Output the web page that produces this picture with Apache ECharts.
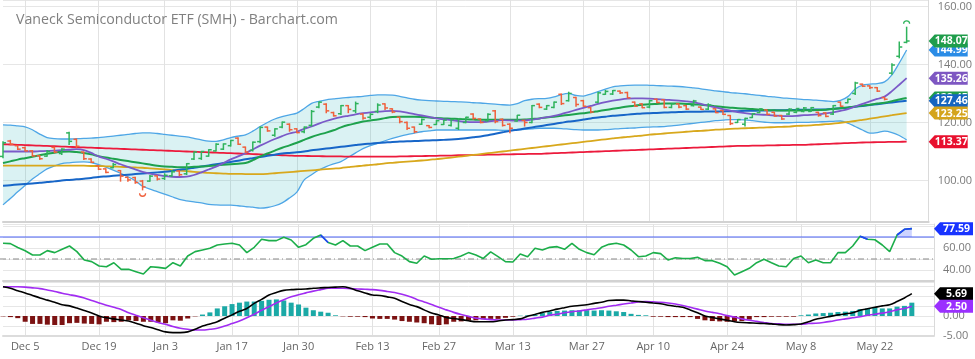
<!DOCTYPE html>
<html><head><meta charset="utf-8">
<script src="https://cdn.jsdelivr.net/npm/echarts@6/dist/echarts.min.js"></script>
<style>html,body{margin:0;padding:0;background:#fff}#c{width:975px;height:359px}</style>
</head><body><div id="c"></div>
<script>
const dates = ['Nov 30','Dec 1','Dec 2','Dec 5','Dec 6','Dec 7','Dec 8','Dec 9','Dec 12','Dec 13','Dec 14','Dec 15','Dec 16','Dec 19','Dec 20','Dec 21','Dec 22','Dec 23','Dec 27','Dec 28','Dec 29','Dec 30','Jan 3','Jan 4','Jan 5','Jan 6','Jan 9','Jan 10','Jan 11','Jan 12','Jan 13','Jan 17','Jan 18','Jan 19','Jan 20','Jan 23','Jan 24','Jan 25','Jan 26','Jan 27','Jan 30','Jan 31','Feb 1','Feb 2','Feb 3','Feb 6','Feb 7','Feb 8','Feb 9','Feb 10','Feb 13','Feb 14','Feb 15','Feb 16','Feb 17','Feb 21','Feb 22','Feb 23','Feb 24','Feb 27','Feb 28','Mar 1','Mar 2','Mar 3','Mar 6','Mar 7','Mar 8','Mar 9','Mar 10','Mar 13','Mar 14','Mar 15','Mar 16','Mar 17','Mar 20','Mar 21','Mar 22','Mar 23','Mar 24','Mar 27','Mar 28','Mar 29','Mar 30','Mar 31','Apr 3','Apr 4','Apr 5','Apr 6','Apr 10','Apr 11','Apr 12','Apr 13','Apr 14','Apr 17','Apr 18','Apr 19','Apr 20','Apr 21','Apr 24','Apr 25','Apr 26','Apr 27','Apr 28','May 1','May 2','May 3','May 4','May 5','May 8','May 9','May 10','May 11','May 12','May 15','May 16','May 17','May 18','May 19','May 22','May 23','May 24','May 25','May 26','May 30'];
const padCategories = [' ', '  ', '   '];
const tickLabels = ['Dec 5','Dec 19','Jan 3','Jan 17','Jan 30','Feb 13','Feb 27','Mar 13','Mar 27','Apr 10','Apr 24','May 8','May 22'];

const open = [108.3,113.6,112.0,111.3,110.2,108.5,108.4,111.4,109.3,116.4,114.2,109.8,107.4,105.1,104.0,104.4,103.4,101.1,101.0,99.8,99.8,101.6,100.7,101.6,103.3,102.3,107.4,107.6,108.4,110.2,110.8,112.0,114.6,111.5,110.4,113.4,118.4,115.6,118.4,119.4,117.8,116.8,119.0,125.3,126.3,123.4,123.0,125.8,124.0,122.9,121.8,123.8,126.4,124.7,121.8,120.0,118.4,119.4,118.9,119.3,119.3,119.0,118.0,120.0,122.9,121.2,120.6,124.0,121.1,119.4,120.5,120.7,120.0,126.3,124.6,125.2,129.7,127.5,128.6,127.5,125.1,127.0,129.7,129.8,130.8,130.3,127.0,126.4,125.3,128.0,127.8,125.2,126.4,125.8,125.8,125.3,124.6,124.7,124.1,122.4,120.0,119.4,121.7,123.4,124.3,123.5,122.4,122.9,123.5,123.8,123.8,123.5,123.3,122.9,127.0,126.8,130.0,133.2,132.6,132.0,128.6,137.0,142.8,147.6];
const high = [113.5,114.0,112.2,111.7,110.5,108.8,110.5,111.7,111.1,116.8,114.5,110.0,107.7,105.3,104.2,106.0,103.6,101.3,101.3,100.2,101.9,101.8,102.5,103.6,103.6,106.0,110.0,110.2,110.8,112.8,112.8,114.0,114.9,111.7,113.4,118.6,118.6,118.0,120.3,119.7,118.0,118.6,124.3,127.2,126.6,123.7,126.0,126.0,127.2,123.2,123.2,126.6,126.6,124.9,122.0,120.3,118.6,121.4,119.1,120.9,120.9,121.2,121.5,122.0,123.2,121.4,123.2,124.3,121.4,119.7,122.6,120.9,126.0,126.6,126.0,127.2,130.0,130.6,128.9,127.8,125.4,130.6,131.2,131.2,131.0,130.6,127.2,126.6,127.8,128.3,128.0,126.6,126.6,126.0,127.8,125.5,126.6,124.9,124.3,122.6,121.2,121.6,123.2,124.9,124.5,123.7,122.6,124.9,124.9,125.3,125.3,123.7,123.5,126.0,127.2,128.3,134.0,133.4,132.8,132.2,128.8,140.4,147.9,153.0];
const low = [107.7,112.2,110.5,110.0,108.2,107.1,108.2,109.4,108.8,112.2,111.1,107.1,106.0,103.6,102.5,104.2,99.6,99.6,98.9,96.6,99.6,100.0,100.2,101.3,101.5,101.9,107.1,107.1,108.2,110.0,110.5,111.7,112.2,109.4,110.0,112.8,116.8,115.1,118.0,116.8,116.3,116.3,118.6,124.9,123.2,122.0,122.6,123.2,123.2,120.9,121.2,123.2,124.3,123.2,119.7,117.4,116.3,119.1,118.0,119.1,119.1,118.6,117.4,119.7,120.9,119.7,120.3,119.7,118.6,116.3,120.3,118.6,119.7,124.9,124.3,124.9,126.0,127.2,125.4,125.4,123.2,126.6,129.5,129.5,129.8,128.3,125.4,124.9,124.9,126.6,124.9,124.9,124.9,124.3,125.5,124.3,124.3,123.2,122.6,119.1,119.8,118.6,121.5,123.2,122.5,122.0,120.9,122.6,123.2,123.5,123.6,122.0,121.8,122.6,125.4,126.6,129.5,132.2,131.5,130.5,127.6,136.4,142.1,147.3];
const close = [113.0,112.5,110.8,110.2,108.5,107.5,110.0,109.8,110.8,113.5,111.8,107.5,106.3,103.9,102.8,105.5,101.5,100.2,99.3,97.8,101.5,100.5,101.8,103.0,102.0,105.8,109.8,110.0,110.6,112.5,112.6,113.8,112.5,109.8,113.2,118.3,117.1,117.8,120.1,117.5,116.5,118.4,123.8,127.0,124.0,122.3,125.8,124.5,126.5,121.5,122.8,126.0,125.0,123.6,120.3,118.0,116.8,121.0,118.3,120.6,120.8,121.0,121.3,121.8,121.4,120.0,122.8,120.3,119.0,118.0,122.5,120.0,125.8,125.2,125.8,127.0,126.5,130.0,126.2,125.6,123.6,130.2,130.7,131.0,130.2,128.5,125.6,125.1,127.5,126.9,125.2,126.4,125.3,124.6,127.4,124.5,126.0,123.4,122.8,119.6,121.0,121.4,123.0,124.7,122.8,122.2,121.2,124.6,124.8,125.0,125.1,122.4,122.1,125.8,125.6,128.0,133.6,132.5,132.0,130.8,128.0,139.8,146.0,148.07];
// period high / low markers: [bar index, price level]
const extremeMarks = [[19, 95.6], [123, 154.0]];

const maPurple = [110,110,110,110,110,110.1,110.2,110.3,110.5,110.6,110.8,110.5,109.5,108.3,107.5,106.6,105.6,104.7,103.8,103,102.4,101.9,101.5,101.3,101.2,101.3,101.9,102.8,103.8,104.8,106,107.3,108.3,109.4,110.7,112,113.2,114.3,115.3,116.2,116.8,117.8,118.6,119.6,120.5,121.2,121.8,122.3,122.8,123.2,123.5,123.7,123.9,124,123.8,123.4,122.9,122.4,121.9,121.4,121.1,120.8,120.5,120.2,120.1,120.1,120.3,120.6,120.8,120.7,120.6,120.7,121,121.3,121.8,122.3,122.9,123.6,124.3,125,125.7,126.4,127,127.5,127.9,128.2,128.3,128.3,128.2,128,127.9,127.7,127.5,127.3,127,126.4,125.8,125.2,124.6,124.1,123.6,123.2,122.9,122.7,122.6,122.4,122.2,122.2,122.3,122.5,122.6,122.8,123.1,123.5,124,124.6,125.5,126.4,127.3,128.1,128.9,130.8,133,135.26];
const maGreen = [106,106.6,107.2,107.7,108.2,108.7,109.2,109.6,109.9,110,109.8,109.5,109,108.4,107.9,107.5,107.1,106.7,106.3,105.9,105.5,105.1,104.8,104.7,104.6,104.6,104.7,104.8,105,105.2,105.4,105.6,105.8,106,107,108.3,109.3,110.3,111.3,112.1,113,114,115,115.8,116.5,117.3,118.3,119.1,119.7,120.3,120.7,121,121.5,121.9,122,122,122,121.9,121.7,121.5,121.4,121.3,121.2,121.1,121,120.9,120.9,120.9,120.9,120.9,120.9,121,121.2,121.4,121.7,122,122.3,122.6,122.9,123.2,123.5,123.9,124.3,124.7,125.1,125.5,125.8,126.1,126.3,126.4,126.5,126.5,126.5,126.4,126.3,126.1,125.9,125.6,125.3,125.1,124.9,124.8,124.6,124.4,124.3,124.2,124.1,124.1,124.1,124.2,124.2,124.3,124.4,124.6,124.9,125.2,125.5,125.8,126.1,126.5,126.8,127.3,127.9,128.45];
const maBlue = [98.2,98.4,98.6,98.8,99,99.2,99.5,99.7,100,100.2,100.4,100.6,100.9,101.2,101.4,101.6,101.8,102,102.2,102.4,102.6,102.8,103,103.3,103.7,104,104.4,104.8,105.2,105.6,106,106.4,106.8,107.3,107.7,108.1,108.5,108.9,109.3,109.5,109.7,110,110.4,110.7,111,111.3,111.6,111.9,112.2,112.5,112.7,112.9,113.1,113.3,113.4,113.5,113.6,113.7,113.8,113.9,114,114.1,114.3,114.6,114.9,115.2,115.6,116.1,116.6,117.1,117.5,117.9,118.3,118.7,119.1,119.5,119.9,120.3,120.6,121,121.4,121.7,122,122.3,122.5,122.7,122.9,123.1,123.2,123.3,123.4,123.5,123.6,123.7,123.7,123.7,123.8,123.8,123.8,123.9,123.9,124,124,124.1,124.1,124.2,124.2,124.3,124.3,124.4,124.4,124.5,124.5,124.7,124.9,125.1,125.4,125.7,126,126.3,126.6,126.9,127.2,127.46];
const maGold = [105.1,105.1,105.1,105.1,105.1,105.1,105.1,105.1,105.1,105.1,105.1,105.1,105,105,104.9,104.8,104.7,104.6,104.5,104.4,104.2,104,103.8,103.6,103.4,103.2,103,102.8,102.6,102.5,102.4,102.3,102.3,102.2,102.2,102.2,102.3,102.5,102.7,102.9,103.1,103.3,103.5,103.7,103.9,104.1,104.3,104.6,104.9,105.1,105.4,105.6,105.9,106.1,106.3,106.5,106.7,106.9,107.1,107.4,107.6,107.9,108.2,108.5,108.8,109.1,109.4,109.7,110,110.3,110.6,110.9,111.2,111.5,111.8,112.1,112.4,112.7,113,113.3,113.6,113.9,114.2,114.5,114.8,115,115.3,115.5,115.8,116,116.2,116.4,116.6,116.8,117,117.1,117.3,117.5,117.6,117.8,117.9,118,118.1,118.2,118.3,118.4,118.5,118.6,118.8,118.9,119,119.2,119.4,119.6,119.9,120.2,120.5,120.9,121.3,121.7,122.1,122.5,122.9,123.25];
const maRed = [112.5,112.4,112.3,112.2,112.1,112,111.9,111.8,111.7,111.6,111.5,111.4,111.3,111.2,111.1,111,110.9,110.8,110.7,110.6,110.5,110.4,110.3,110.2,110.1,110,109.9,109.8,109.7,109.6,109.5,109.4,109.3,109.2,109.1,109,108.9,108.8,108.7,108.6,108.5,108.5,108.4,108.4,108.3,108.3,108.3,108.2,108.2,108.2,108.2,108.2,108.2,108.2,108.3,108.3,108.4,108.4,108.5,108.5,108.6,108.6,108.7,108.7,108.8,108.8,108.9,108.9,109,109,109.1,109.1,109.2,109.2,109.3,109.4,109.5,109.6,109.7,109.8,109.9,110,110.1,110.2,110.3,110.4,110.5,110.6,110.7,110.8,110.9,111,111.1,111.2,111.3,111.4,111.5,111.6,111.7,111.8,111.9,111.9,112,112,112.1,112.1,112.2,112.2,112.3,112.3,112.4,112.5,112.6,112.7,112.8,112.9,113,113.1,113.15,113.2,113.25,113.3,113.33,113.37];
const bbUpper = [119.2,119.1,118.8,118.5,117.5,116,114.8,114.4,114.3,114.3,114.4,114.5,114.6,114.8,115,115.3,115.6,115.9,116.2,116.4,116.4,116.2,115.9,115.6,115.3,115,114.5,114,113.6,113.5,114,114.8,115.3,115.7,117,118.6,120,121.2,122,122.6,123.2,124.8,126.6,127.3,127.8,128.1,128.4,128.6,128.8,129,129.3,129.5,129.5,129.4,129,128.5,128,127.7,127.5,127.4,127.3,127.2,127.1,127,126.8,126.7,126.5,126.3,126.1,126,126.5,127.5,128,128.2,128.3,128.8,129.6,130,129.3,129.1,129.8,130.6,131.5,132.3,132.6,132.8,132.9,132.9,132.8,132.7,132.6,132.5,132.4,132.2,131.9,131.6,131.2,130.9,130.6,130.3,130.1,129.9,129.6,129.3,129,128.8,128.5,128.3,128.1,127.9,127.8,127.6,127.4,127.2,127.6,128.9,131.5,132.9,133.2,133.4,134,136.4,140.5,144.99];
const bbLower = [91.6,93.8,96.1,98.3,100.5,102.3,104,105,105.8,106.1,106.3,106.4,106.2,105.5,104.6,103.6,102.5,101.3,99.9,98,97,96.2,95.3,94.4,93.5,93,92.6,92.3,91.8,91.6,91.5,91.5,91.3,91,90.8,90.5,90.7,91.3,92.3,94,96,100.2,102,103.6,104.8,105.7,106.5,108,109.5,111,112,112.8,113.7,114.5,115.2,115.8,116.3,116.8,117.1,117.4,117.4,117.4,117.4,117.4,117.4,117.4,117.4,117.4,117.3,117.3,117.4,117.6,117.8,118,118,118,117.9,117.7,117.5,117.4,117.4,117.4,117.5,117.7,117.9,118,118.1,118.3,118.4,118.5,118.6,118.8,119.1,119.4,119.7,120,120.3,120.6,120.8,121,121,120.9,120.6,120.3,120,119.9,119.9,119.9,120,120,120.1,120.2,120.3,120.4,120.5,119.8,118.6,117.4,116.3,116.5,117,116.5,115.5,114];

const rsi = [64.3,64,60.5,57.5,53.6,53.6,57.6,55.8,58.8,61.8,56.7,49.1,47.6,43.6,43,46.6,40.6,40.6,38.5,36.4,43,42.4,41.5,46.6,43.6,52.7,56.7,58.2,59.7,62.7,63.6,64.3,62.7,55.8,60.6,67.9,66.7,66.7,69.7,67.3,60.6,63,68.8,71.8,65,62.7,66.7,61.8,61.8,57.6,60.6,63.6,63.6,55.8,52.7,47.6,46.1,52.7,49.7,50.2,50.2,50.5,52.7,55.8,53.6,50.5,56.4,52.1,47.6,47.3,54.5,52.1,59.7,58.2,60.6,61.2,58.8,64.3,58.8,55.8,53.9,60.6,63.3,64.3,62.7,58.2,52.1,52.7,55.8,54.9,49.1,51.2,50.5,50.5,51.5,48.5,48.5,46.1,43,35.5,38.5,41.5,46.6,49.7,46.6,43.6,43,50.5,52.7,46.6,49.1,46.6,46.6,55.8,55.8,61.8,70.6,67.9,67.5,62.7,56.7,71.8,77,77.59];
const rsiLevels = [70, 50];

const macdLine = [7.45,7.08,6.44,5.89,5.24,4.6,4.05,3.5,2.85,2.58,2.02,1.38,0.74,0,-0.46,-0.74,-1.01,-1.29,-1.84,-2.48,-2.94,-3.5,-4.05,-4.23,-4.23,-4.05,-3.4,-2.58,-2.02,-1.47,-0.55,0.28,1.2,1.93,3.22,4.23,5.34,5.98,6.53,6.72,6.81,6.9,7.08,7.18,7.27,7.36,7.45,7.08,6.44,5.89,5.34,5.24,4.88,4.51,3.68,2.94,2.39,1.56,0.74,0.28,-0.37,-0.64,-0.92,-1.2,-1.47,-1.47,-1.47,-1.29,-1.01,-0.92,-0.74,-0.09,0.37,0.92,1.29,1.75,2.12,2.48,2.67,2.85,3.22,3.5,3.96,4.05,4.05,3.86,3.68,3.5,3.31,3.13,2.76,2.48,2.21,1.56,0.83,0,-0.37,-0.74,-1.1,-1.47,-1.66,-1.75,-1.84,-1.93,-2.02,-2.21,-2.3,-2.21,-2.02,-1.47,-0.83,-0.46,-0.09,0.28,0.55,0.83,1.47,1.84,2.21,2.58,2.85,3.68,4.6,5.69];
const macdSignal = [7.45,7.45,7.45,7.36,7.18,6.99,6.62,6.26,5.8,5.43,5.06,4.6,3.96,3.31,2.76,2.21,1.66,0.83,0.18,-0.46,-1.1,-1.66,-2.12,-2.67,-3.13,-3.4,-3.59,-3.59,-3.4,-3.13,-2.58,-1.93,-1.29,-0.46,0.46,1.47,2.39,3.31,4.14,4.88,5.43,5.89,6.35,6.72,7.08,7.08,7.08,6.99,6.9,6.81,6.72,6.53,6.26,5.98,5.52,4.97,4.23,3.59,2.94,2.21,1.56,0.92,0.37,-0.09,-0.55,-0.74,-0.92,-1.01,-1.01,-1.01,-0.92,-0.83,-0.55,-0.28,0.18,0.46,0.83,1.1,1.29,1.56,1.84,2.12,2.48,2.76,3.04,3.31,3.59,3.68,3.59,3.5,3.31,3.04,2.67,2.21,1.75,1.29,0.92,0.55,0.09,-0.28,-0.74,-1.1,-1.38,-1.66,-1.93,-2.02,-2.12,-2.12,-2.12,-1.93,-1.84,-1.66,-1.38,-1.01,-0.74,-0.46,-0.18,0.18,0.46,0.74,1.1,1.56,1.93,2.5];
const macdHist = [-0.1,-0.28,-0.55,-1.47,-2.02,-2.02,-2.21,-2.3,-2.3,-1.84,-1.75,-1.93,-2.02,-2.12,-1.47,-1.56,-1.47,-1.1,-1.29,-1.47,-1.47,-1.66,-1.84,-1.1,-1.2,-0.64,-0.09,0.37,0.92,1.93,2.48,3.04,3.4,3.68,3.68,3.86,4.14,4.23,3.96,3.4,2.94,2.12,1.47,1.1,0.83,0.18,-0.09,-0.18,-0.18,-0.28,-0.64,-0.74,-0.74,-0.92,-1.29,-1.47,-1.66,-1.84,-2.12,-2.3,-2.12,-1.47,-1.38,-1.2,-1.1,-0.83,-0.74,-0.74,-0.46,-0.18,0.09,0.18,0.28,0.74,1.1,1.29,1.38,1.47,1.47,1.47,1.38,1.47,1.38,1.2,1.01,0.55,0.28,0.18,-0.18,-0.18,-0.28,-0.28,-0.28,-0.28,-0.74,-1.1,-1.29,-1.38,-1.47,-1.38,-1.29,-0.92,-0.28,-0.28,-0.18,-0.18,-0.18,-0.18,0.18,0.37,0.64,0.74,0.83,1.01,1.1,1.29,1.75,1.93,2.12,1.93,1.93,2.39,2.58,3.4];

const priceTagValues = [144.99, 148.07, 128.45, 127.46, 123.25, 135.26, 113.37];
const priceTagColors = ['#2b8ce6', '#1f9d4b', '#1f9d4b', '#1565c0', '#d4a41c', '#7e57c2', '#e8102e'];
const rsiTagValues = [77.59];
const rsiTagColors = ['#1833ff'];
const macdTagValues = [5.69, 2.50];
const macdTagColors = ['#000000', '#9b30ff'];

const C_UP = '#2fb35c', C_DN = '#f0603c';
const last = dates.length - 1;
const cats = dates.concat(padCategories);
const FONT = '"Open Sans", "DejaVu Sans", sans-serif';

function tagSeries(values, colors, xAxisIndex, yAxisIndex) {
  return {
    type: 'custom', xAxisIndex: xAxisIndex, yAxisIndex: yAxisIndex, clip: false, z: 20, silent: true,
    data: values.map(v => [last, v]),
    renderItem: function (params, api) {
      const i = params.dataIndex;
      const p = api.coord([api.value(0), api.value(1)]);
      const cs = params.coordSys;
      const x0 = cs.x + cs.width;
      const y = p[1], h = 6.5, w = 39;
      return {
        type: 'group', children: [
          { type: 'polygon', shape: { points: [[x0, y], [x0 + 6, y - h], [x0 + w, y - h], [x0 + w, y + h], [x0 + 6, y + h]] }, style: { fill: colors[i] } },
          { type: 'text', x: x0 + 6 + (w - 6) / 2, y: y + 0.5, style: { text: values[i].toFixed(2), fill: '#fff', font: 'bold 10.5px ' + FONT, align: 'center', verticalAlign: 'middle' } }
        ]
      };
    }
  };
}

function lineS(data, color, width, x, y, extra) {
  return Object.assign({ type: 'line', data: data, xAxisIndex: x, yAxisIndex: y, symbol: 'none', smooth: 0.3, silent: true,
    lineStyle: { color: color, width: width }, itemStyle: { color: color }, z: 3 }, extra || {});
}

function xAxisBase(gi, showLabel, lineColor) {
  return {
    type: 'category', gridIndex: gi, data: cats, boundaryGap: false,
    axisTick: { show: false },
    axisLine: { show: true, onZero: false, lineStyle: { color: lineColor, width: 2 } },
    axisLabel: { show: showLabel, interval: (i, v) => tickLabels.includes(v), color: '#666', fontSize: 11, margin: 6, fontFamily: FONT },
    splitLine: { show: true, interval: (i, v) => tickLabels.includes(v), lineStyle: { color: '#e2e2e2', width: 1 } }
  };
}

const gridLine = { lineStyle: { color: '#e6e6e6', width: 1 } };
const axisLbl = (fmt) => ({ color: '#7a7a7a', fontSize: 11, margin: 9, fontFamily: FONT, formatter: fmt });

const option = {
  animation: false,
  backgroundColor: '#fff',
  title: { text: 'Vaneck Semiconductor ETF (SMH) - Barchart.com', left: 11, top: 8,
    textStyle: { color: '#808080', fontSize: 14.2, fontWeight: 'normal', fontFamily: FONT } },
  grid: [
    { left: 3, right: 41, top: 0, height: 222 },
    { left: 3, right: 41, top: 224, height: 57 },
    { left: 3, right: 41, top: 282, height: 53.6 }
  ],
  xAxis: [xAxisBase(0, false, '#d2d2d2'), xAxisBase(1, false, '#d2d2d2'), xAxisBase(2, true, '#dcdcdc')],
  yAxis: [
    { type: 'value', gridIndex: 0, position: 'right', min: 85.7, max: 162.2, splitNumber: 4,
      axisLine: { show: true, lineStyle: { color: '#dadada' } }, axisTick: { show: false },
      axisLabel: axisLbl(v => (Math.abs(v % 20) < 1e-6 ? v.toFixed(2) : '')), splitLine: gridLine },
    { type: 'value', gridIndex: 1, position: 'right', min: 30, max: 81.8, interval: 10,
      axisLine: { show: true, lineStyle: { color: '#dadada' } }, axisTick: { show: false },
      axisLabel: axisLbl(v => (v === 40 || v === 60 ? v.toFixed(2) : '')), splitLine: gridLine },
    { type: 'value', gridIndex: 2, position: 'right', min: -5, max: 8.67, interval: 2.5,
      axisLine: { show: true, lineStyle: { color: '#dadada' } }, axisTick: { show: false },
      axisLabel: axisLbl(v => (Math.abs(v % 5) < 1e-6 && v < 8 ? v.toFixed(2) : '')), splitLine: gridLine }
  ],
  series: [
    { type: 'line', xAxisIndex: 0, yAxisIndex: 0, data: bbLower, stack: 'bb', symbol: 'none', smooth: 0.3, silent: true, lineStyle: { opacity: 0 }, z: 1 },
    { type: 'line', xAxisIndex: 0, yAxisIndex: 0, data: bbUpper.map((u, i) => +(u - bbLower[i]).toFixed(2)), stack: 'bb', symbol: 'none', smooth: 0.3, silent: true,
      lineStyle: { opacity: 0 }, areaStyle: { color: 'rgba(60,185,190,0.27)' }, z: 1 },
    lineS(bbUpper, '#4ea6e6', 1.3, 0, 0),
    lineS(bbLower, '#4ea6e6', 1.3, 0, 0),
    lineS(maRed, '#ec1a3c', 1.8, 0, 0),
    lineS(maGold, '#d8a81c', 1.8, 0, 0),
    lineS(maBlue, '#1766c8', 2, 0, 0),
    lineS(maGreen, '#1ea24d', 2, 0, 0),
    lineS(maPurple, '#7a5ac8', 1.8, 0, 0),
    { type: 'custom', xAxisIndex: 0, yAxisIndex: 0, z: 6, silent: true,
      data: dates.map((d, i) => [i, open[i], high[i], low[i], close[i]]),
      encode: { x: 0, y: [1, 2, 3, 4] },
      renderItem: function (params, api) {
        const i = params.dataIndex;
        const idx = api.value(0);
        const pO = api.coord([idx, api.value(1)]), pH = api.coord([idx, api.value(2)]),
              pL = api.coord([idx, api.value(3)]), pC = api.coord([idx, api.value(4)]);
        const up = i === 0 || close[i] >= close[i - 1];
        const col = up ? C_UP : C_DN;
        const x = pH[0];
        const st = { stroke: col, lineWidth: 1.5 };
        return { type: 'group', children: [
          { type: 'line', shape: { x1: x, y1: pH[1], x2: x, y2: pL[1] }, style: st },
          { type: 'line', shape: { x1: x - 3, y1: pO[1], x2: x, y2: pO[1] }, style: st },
          { type: 'line', shape: { x1: x, y1: pC[1], x2: x + 3, y2: pC[1] }, style: st }
        ] };
      } },
    { type: 'custom', xAxisIndex: 0, yAxisIndex: 0, z: 6, silent: true, clip: false,
      data: extremeMarks,
      renderItem: function (params, api) {
        const p = api.coord([api.value(0), api.value(1)]);
        const isHigh = params.dataIndex === 1;
        return { type: 'arc', shape: { cx: p[0], cy: p[1], r: 3, startAngle: isHigh ? Math.PI : 0, endAngle: isHigh ? 2 * Math.PI : Math.PI },
          style: { stroke: isHigh ? C_UP : C_DN, lineWidth: 1.3, fill: null } };
      } },
    { type: 'custom', xAxisIndex: 1, yAxisIndex: 1, z: 2, silent: true, clip: false,
      data: rsiLevels.map(v => [0, v]),
      renderItem: function (params, api) {
        const y = api.coord([0, api.value(1)])[1];
        const cs = params.coordSys;
        const st = params.dataIndex === 0 ? { stroke: '#4a62f5', lineWidth: 1.2 } : { stroke: '#8a8a8a', lineWidth: 1, lineDash: [6, 3, 1, 3] };
        return { type: 'line', shape: { x1: cs.x - 3, y1: y, x2: cs.x + cs.width, y2: y }, style: st };
      } },
    { type: 'line', xAxisIndex: 1, yAxisIndex: 1, data: rsi.map(v => Math.min(v, 70)), stack: 'ob', symbol: 'none', silent: true, lineStyle: { opacity: 0 }, z: 2 },
    { type: 'line', xAxisIndex: 1, yAxisIndex: 1, data: rsi.map(v => +Math.max(v - 70, 0).toFixed(2)), stack: 'ob', symbol: 'none', silent: true,
      lineStyle: { opacity: 0 }, areaStyle: { color: 'rgba(50,80,255,0.35)' }, z: 2 },
    lineS(rsi, '#1cae4a', 1.6, 1, 1, { smooth: false, z: 4 }),
    lineS(rsi.map((v, i) => (v > 70 || rsi[i - 1] > 70) ? v : null), '#2040ff', 1.6, 1, 1, { smooth: false, z: 5, connectNulls: false }),
    { type: 'bar', xAxisIndex: 2, yAxisIndex: 2, data: macdHist, barWidth: 5, silent: true, z: 2,
      itemStyle: { color: p => (p.value >= 0 ? '#1ba9a6' : '#7c1212') } },
    lineS(macdSignal, '#a12cf2', 1.6, 2, 2),
    lineS(macdLine, '#000000', 1.6, 2, 2),
    tagSeries(priceTagValues, priceTagColors, 0, 0),
    tagSeries(rsiTagValues, rsiTagColors, 1, 1),
    tagSeries(macdTagValues, macdTagColors, 2, 2)
  ]
};

const chart = echarts.init(document.getElementById('c'), null, { renderer: 'canvas' });
chart.setOption(option);
</script>
</body></html>
